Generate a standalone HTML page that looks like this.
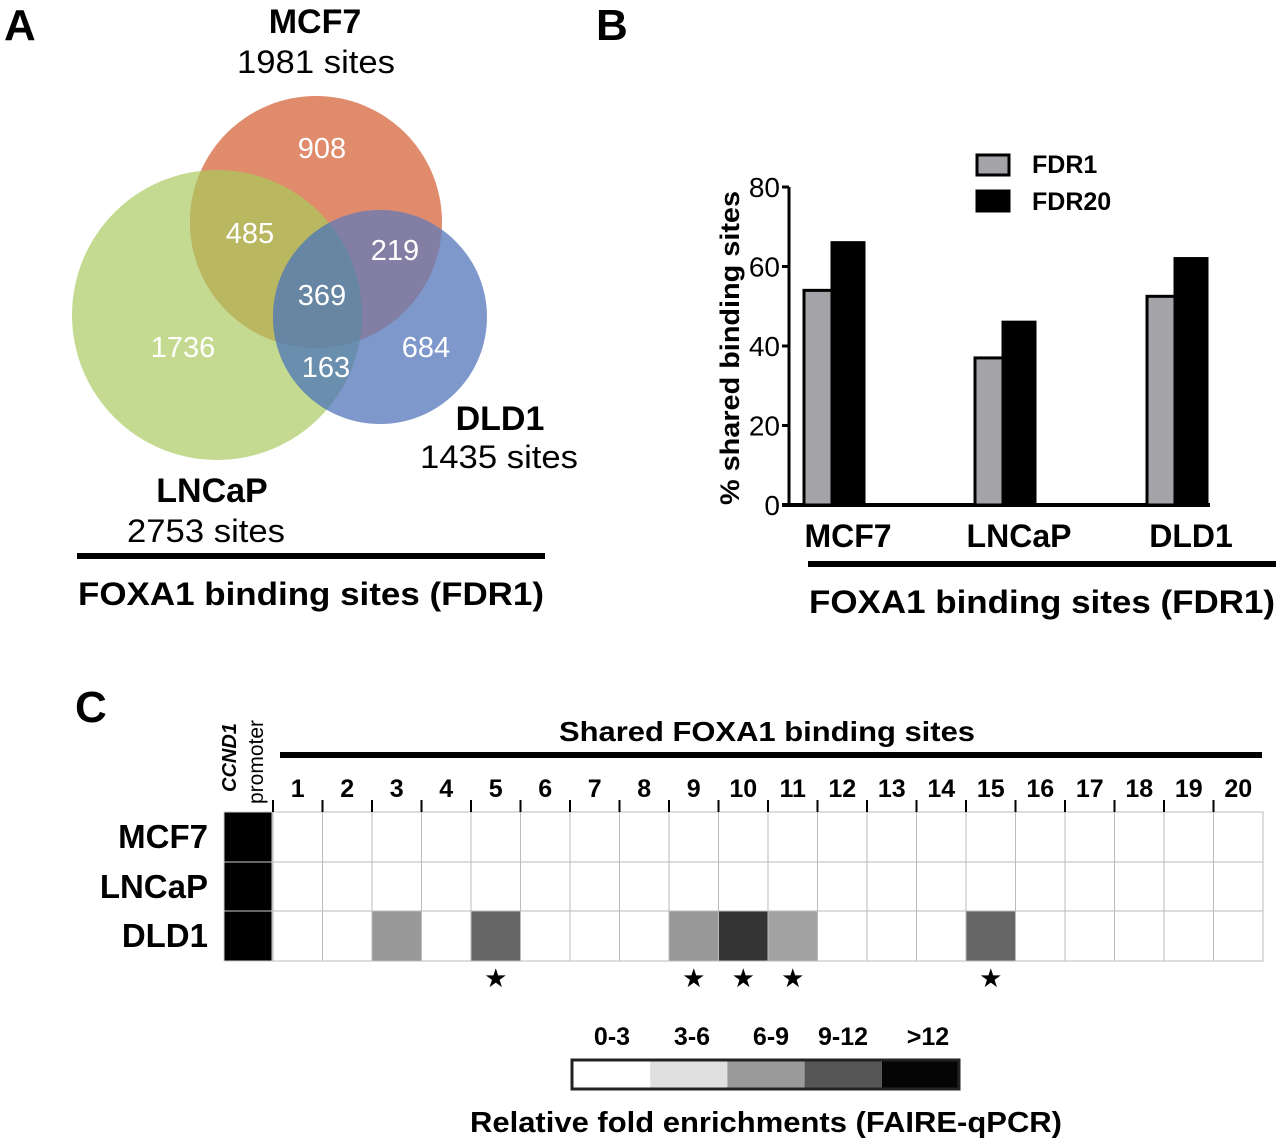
<!DOCTYPE html>
<html><head><meta charset="utf-8"><style>
body{margin:0;background:#fff;}
svg{display:block;font-family:"Liberation Sans",Arial,sans-serif;}
.b{font-weight:bold;}
</style></head><body>
<svg id="fig" width="1280" height="1143" viewBox="0 0 1280 1143">
<defs>
<clipPath id="cO"><circle cx="316" cy="222" r="126"/></clipPath>
<clipPath id="cG"><circle cx="217" cy="315" r="145"/></clipPath>
<clipPath id="cB"><circle cx="380" cy="317" r="107"/></clipPath>
</defs>
<!-- Panel A -->
<text x="4" y="40" font-size="44" class="b">A</text>
<g>
<circle cx="217" cy="315" r="145" fill="#c4da90"/>
<circle cx="316" cy="222" r="126" fill="#df8b6c"/>
<circle cx="380" cy="317" r="107" fill="#7f98cb"/>
<g clip-path="url(#cG)"><circle cx="316" cy="222" r="126" fill="#b9b760"/></g>
<g clip-path="url(#cO)"><circle cx="380" cy="317" r="107" fill="#837ea3"/></g>
<g clip-path="url(#cG)"><circle cx="380" cy="317" r="107" fill="#6a8fae"/></g>
<g clip-path="url(#cG)"><g clip-path="url(#cO)"><circle cx="380" cy="317" r="107" fill="#6786a4"/></g></g>
<g fill="#fff" font-size="29" text-anchor="middle">
<text x="322" y="158">908</text><text x="250" y="243">485</text><text x="395" y="260">219</text>
<text x="322" y="305">369</text><text x="183" y="357">1736</text><text x="426" y="357">684</text><text x="326" y="377">163</text>
</g>
</g>
<g text-anchor="middle">
<text x="315" y="33" font-size="34" class="b">MCF7</text>
<text x="316" y="73" font-size="32" textLength="158" lengthAdjust="spacingAndGlyphs">1981 sites</text>
<text x="500" y="430" font-size="34" class="b">DLD1</text>
<text x="499" y="468" font-size="32" textLength="158" lengthAdjust="spacingAndGlyphs">1435 sites</text>
<text x="212" y="502" font-size="34" class="b">LNCaP</text>
<text x="206" y="542" font-size="32" textLength="158" lengthAdjust="spacingAndGlyphs">2753 sites</text>
</g>
<rect x="77" y="553" width="468" height="6" fill="#000"/>
<text x="311" y="605" font-size="32" class="b" text-anchor="middle" textLength="466" lengthAdjust="spacingAndGlyphs">FOXA1 binding sites (FDR1)</text>

<!-- Panel B -->
<text x="596" y="40" font-size="44" class="b">B</text>
<g id="barchart"></g>
<rect x="808" y="561" width="468" height="6" fill="#000"/>
<text x="1042" y="613" font-size="32" class="b" text-anchor="middle" textLength="466" lengthAdjust="spacingAndGlyphs">FOXA1 binding sites (FDR1)</text>

<!-- Panel C -->
<text x="75" y="722" font-size="44" class="b">C</text>
<text transform="translate(236,792) rotate(-90)" font-size="20" class="b" font-style="italic">CCND1</text>
<text transform="translate(263,804) rotate(-90)" font-size="21">promoter</text>
<text x="767" y="741" font-size="28" class="b" text-anchor="middle" textLength="416" lengthAdjust="spacingAndGlyphs">Shared FOXA1 binding sites</text>
<rect x="280" y="752" width="982" height="6" fill="#000"/>
<g id="heatmap"></g>
<g id="hlegend"></g>
<text x="766" y="1132" font-size="29" class="b" text-anchor="middle" textLength="592" lengthAdjust="spacingAndGlyphs">Relative fold enrichments (FAIRE-qPCR)</text>
</svg>
<script>
// ---- Bar chart data ----
const barCategories = ["MCF7","LNCaP","DLD1"];
const fdr1Values = [54, 37, 52.5];
const fdr20Values = [66, 46, 62];
const yTicks = [0,20,40,60,80];
// ---- Heatmap data ----
const siteLabels = ["1","2","3","4","5","6","7","8","9","10","11","12","13","14","15","16","17","18","19","20"];
const cellLines = ["MCF7","LNCaP","DLD1"];
const mcf7Fold = [0,0,0,0,0,0,0,0,0,0,0,0,0,0,0,0,0,0,0,0];
const lncapFold = [0,0,0,0,0,0,0,0,0,0,0,0,0,0,0,0,0,0,0,0];
const dld1Fold = [0,0,6,0,9,0,0,0,6,12,5.5,0,0,0,9,0,0,0,0,0];
const starredSites = [5,9,10,11,15];
const legendBins = ["0-3","3-6","6-9","9-12",">12"];

const NS="http://www.w3.org/2000/svg";
function mk(tag,attrs,parent,txt){const e=document.createElementNS(NS,tag);for(const k in attrs)e.setAttribute(k,attrs[k]);if(txt!==undefined)e.textContent=txt;parent.appendChild(e);return e;}

// Bar chart
(function(){
const g=document.getElementById('barchart');
const y0=505,y80=187;
const yS=v=>y0-(v/80)*(y0-y80);
const groupX=[818,989,1161];
const bw=28;
mk('line',{x1:789,y1:y80,x2:789,y2:y0+2,stroke:'#000','stroke-width':3},g);
mk('line',{x1:782,y1:y0,x2:1210,y2:y0,stroke:'#000','stroke-width':4},g);
yTicks.forEach(t=>{
 mk('line',{x1:782,y1:yS(t),x2:789,y2:yS(t),stroke:'#000','stroke-width':3},g);
 const tx=mk('text',{x:780,y:yS(t)+10,'font-size':28,'text-anchor':'end'},g,String(t));
 
 
});
const yt=mk('text',{transform:'translate(739,348) rotate(-90)','font-size':27,'font-weight':'bold','text-anchor':'middle',textLength:314,lengthAdjust:'spacingAndGlyphs'},g,'% shared binding sites');


barCategories.forEach((c,i)=>{
 const x=groupX[i]-14;
 const r1=mk('rect',{x:x,y:yS(fdr1Values[i]),width:bw,height:y0-yS(fdr1Values[i]),fill:'#a3a3a8',stroke:'#000','stroke-width':3},g);
 
 
 const r2=mk('rect',{x:x+bw,y:yS(fdr20Values[i]),width:bw+4,height:y0-yS(fdr20Values[i]),fill:'#000',stroke:'#000','stroke-width':3},g);
 
 
 const lb=mk('text',{x:groupX[i]+30,y:547,'font-size':32,'font-weight':'bold','text-anchor':'middle'},g,c);
 
 
});
const l1=mk('rect',{x:977,y:155,width:32,height:20,fill:'#a3a3a8',stroke:'#000','stroke-width':3},g);


const l2=mk('rect',{x:977,y:191,width:32,height:20,fill:'#000',stroke:'#000','stroke-width':3},g);


const t1=mk('text',{x:1032,y:173,'font-size':25,'font-weight':'bold'},g,'FDR1');


const t2=mk('text',{x:1032,y:210,'font-size':25,'font-weight':'bold'},g,'FDR20');


})();

// Heatmap
(function(){
const g=document.getElementById('heatmap');
const x0=273,cw=49.5,rows=[812,862,911],rh=50;
const data=[mcf7Fold,lncapFold,dld1Fold];
const gray=v=>{const c=Math.max(0,Math.round(255-17*v));return 'rgb('+c+','+c+','+c+')';};
cellLines.forEach((cl,r)=>{
 const pr=mk('rect',{x:224,y:rows[r],width:48,height:rh,fill:'#000',stroke:'#ccc','stroke-width':1},g);
 
 
 const lb=mk('text',{x:208,y:rows[r]+36,'font-size':33,'font-weight':'bold','text-anchor':'end'},g,cl);
 
 
 data[r].forEach((v,i)=>{
  const c=mk('rect',{x:x0+i*cw,y:rows[r],width:cw,height:rh,fill:gray(v),stroke:'#bbb','stroke-width':1},g);
  
  
 });
});
siteLabels.forEach((s,i)=>{
 const t=mk('text',{x:x0+i*cw+cw/2,y:797,'font-size':25,'font-weight':'bold','text-anchor':'middle'},g,s);
 
 
 mk('line',{x1:x0+i*cw,y1:800,x2:x0+i*cw,y2:812,stroke:'#000','stroke-width':2},g);
});
starredSites.forEach(s=>{
 const st=mk('text',{x:x0+(s-1)*cw+cw/2,y:987,'font-size':26,'text-anchor':'middle'},g,'★');
 
 
});
const lg=document.getElementById('hlegend');
const cols=['#fff','#e0e0e0','#9a9a9a','#555','#050505'];
const lx=[612,692,771,843,928];
legendBins.forEach((b,i)=>{
 const r=mk('rect',{x:573+i*77.2,y:1061,width:77.2,height:27,fill:cols[i]},lg);
 
 
 const t=mk('text',{x:lx[i],y:1045,'font-size':25,'font-weight':'bold','text-anchor':'middle'},lg,b);
 
 
});
mk('rect',{x:572,y:1060,width:387,height:29,fill:'none',stroke:'#222','stroke-width':3},lg);
})();
</script>
</body></html>
